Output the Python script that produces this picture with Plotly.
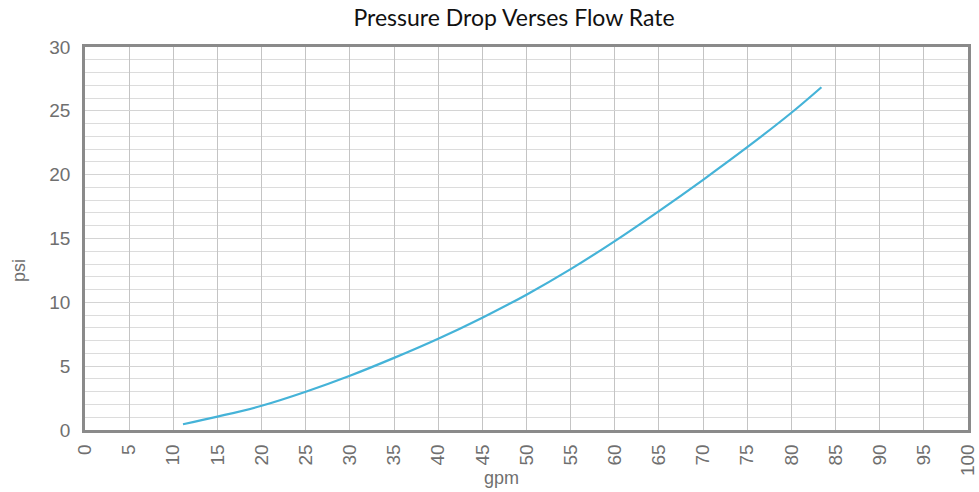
import plotly.graph_objects as go

# Data
gpm = [11.1, 15, 20, 25, 30, 35, 40, 45, 50, 55, 60, 65, 70, 75, 80, 83.4]
psi = [0.45, 1.05, 1.9, 3.0, 4.25, 5.65, 7.15, 8.8, 10.6, 12.6, 14.8, 17.15, 19.6, 22.15, 24.85, 26.85]

x_ticks = list(range(0, 101, 5))
y_ticks = list(range(0, 31, 5))

tick_font = dict(family="Liberation Sans Narrow, Liberation Sans, Arial", size=19, color="#6f6f6f")

plot_left, plot_right, plot_top, plot_bottom = 85, 968, 47, 430
W, H = 979, 492
pw = plot_right - plot_left
ph = plot_bottom - plot_top

fig = go.Figure()
fig.add_trace(go.Scatter(
    x=gpm, y=psi, mode="lines",
    line=dict(color="#45b3d8", width=2.2, shape="spline", smoothing=1.0),
    showlegend=False, hoverinfo="skip",
))

fig.update_layout(
    width=W, height=H,
    margin=dict(l=plot_left, r=W - plot_right, t=plot_top, b=H - plot_bottom, autoexpand=False),
    paper_bgcolor="white", plot_bgcolor="white",
    title=dict(text="Pressure Drop Verses Flow Rate",
               x=514 / W, xanchor="center", xref="container",
               y=1 - 18 / H, yanchor="middle", yref="container",
               font=dict(family="Lato, Noto Sans, sans-serif", size=23, color="#111111")),
    xaxis=dict(
        range=[0, 100], tickvals=x_ticks, ticktext=[str(v) for v in x_ticks],
        tickangle=-90, tickfont=tick_font, automargin=False,
        showgrid=True, gridcolor="#c4c4c4", gridwidth=1.3,
        showline=True, mirror=True, linecolor="#8a8a8a", linewidth=2.5,
        zeroline=False, ticks="", ticklabelstandoff=4,
    ),
    yaxis=dict(
        range=[0, 30], tickvals=y_ticks, ticktext=[str(v) for v in y_ticks],
        tickfont=tick_font, automargin=False,
        showgrid=True, gridcolor="#d4d4d4", gridwidth=1,
        minor=dict(dtick=1, showgrid=True, gridcolor="#dcdcdc", gridwidth=1),
        showline=True, mirror=True, linecolor="#8a8a8a", linewidth=2.5,
        zeroline=False, ticks="", ticklabelstandoff=8,
    ),
    annotations=[
        dict(text="gpm", x=(501 - plot_left) / pw, y=(plot_bottom - 478) / ph,
             xref="paper", yref="paper", xanchor="center", yanchor="middle",
             showarrow=False, font=dict(family="Liberation Sans, Arial", size=18, color="#6f6f6f")),
        dict(text="psi", x=(19 - plot_left) / pw, y=(plot_bottom - 271) / ph,
             xref="paper", yref="paper", xanchor="center", yanchor="middle", textangle=-90,
             showarrow=False, font=dict(family="Liberation Sans, Arial", size=18, color="#6f6f6f")),
    ],
)

fig.write_html("out.html",
               config={"displayModeBar": False},
               post_script="document.body.style.margin='0';document.body.style.overflow='hidden';")
